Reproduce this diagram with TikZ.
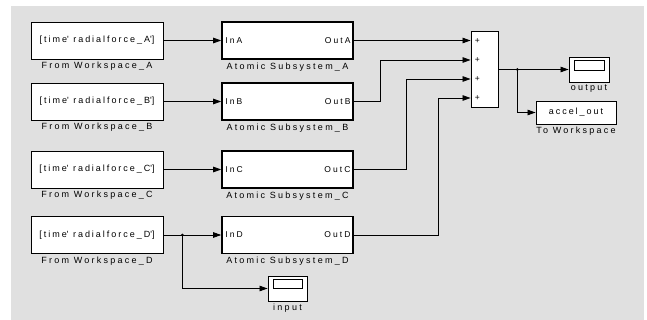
\documentclass[tikz,border=0pt]{standalone}
\usepackage{fontspec}
\setmainfont{Liberation Sans}
\newfontfamily\lblfont[LetterSpace=25]{Liberation Sans}
\newfontfamily\txtfont[LetterSpace=22]{Liberation Sans}
\newfontfamily\portfont[LetterSpace=25]{Liberation Sans}
\usetikzlibrary{arrows.meta,calc}
\definecolor{bggrey}{RGB}{224,224,224}
\begin{document}
\begin{tikzpicture}[x=1pt,y=-1pt,
  fw/.style={draw, fill=white, line width=0.9pt, minimum width=132pt, minimum height=37pt, inner sep=0pt, font=\txtfont\fontsize{9}{10}\selectfont},
  asb/.style={draw, fill=white, line width=1.6pt, minimum width=131pt, minimum height=37pt, inner sep=0pt},
  port/.style={inner sep=0pt, font=\portfont\fontsize{8.5}{9}\selectfont},
  lbl/.style={inner sep=0pt, anchor=north, font=\lblfont\fontsize{9}{10}\selectfont},
  sumb/.style={draw, fill=white, line width=0.9pt, minimum width=27pt, minimum height=76pt, inner sep=0pt},
  plus/.style={inner sep=0pt, font=\fontsize{8.5}{9}\selectfont, anchor=west},
  scopeb/.style={draw, fill=white, line width=0.9pt, minimum width=40pt, minimum height=25pt, inner sep=0pt},
  scopein/.style={draw, fill=white, line width=0.9pt, minimum width=30pt, minimum height=10pt, inner sep=0pt},
  wsb/.style={draw, fill=white, line width=0.9pt, minimum width=80pt, minimum height=23pt, inner sep=0pt, font=\txtfont\fontsize{9}{10}\selectfont},
  arr/.style={draw, line width=0.8pt, -{Triangle[length=8pt,width=5.5pt]}},
  wire/.style={draw, line width=0.8pt}
]
\useasboundingbox (0,0) rectangle (647,320);
\fill[bggrey] (11,6) rectangle (644,320);

% From Workspace blocks
\node[fw] (fwA) at (97,40.5) {[time\textquotesingle\ radialforce\_A\textquotesingle]};
\node[fw] (fwB) at (97,101.5) {[time\textquotesingle\ radialforce\_B\textquotesingle]};
\node[fw] (fwC) at (97,169.5) {[time\textquotesingle\ radialforce\_C\textquotesingle]};
\node[fw] (fwD) at (97,235) {[time\textquotesingle\ radialforce\_D\textquotesingle]};
\node[lbl] (lfA) at ([yshift=-2.5pt]fwA.south) {From Workspace\_A};
\node[lbl] (lfB) at ([yshift=-2.5pt]fwB.south) {From Workspace\_B};
\node[lbl] (lfC) at ([yshift=-2.5pt]fwC.south) {From Workspace\_C};
\node[lbl] (lfD) at ([yshift=-2.5pt]fwD.south) {From Workspace\_D};

% Atomic subsystems
\node[asb] (asA) at (287.5,40.5) {};
\node[asb] (asB) at (287.5,101.5) {};
\node[asb] (asC) at (287.5,169.5) {};
\node[asb] (asD) at (287.5,235) {};
\foreach \n in {A,B,C,D}{
  \node[port, anchor=west] (in\n) at ([xshift=4pt]as\n.west) {In\n};
  \node[port, anchor=east] (out\n) at ([xshift=-3pt]as\n.east) {Out\n};
  \node[lbl] (la\n) at ([yshift=-2.5pt]as\n.south) {Atomic Subsystem\_\n};
}

% Sum block
\node[sumb] (sum) at (484.5,69.5) {};
\coordinate (s1) at ([yshift=28.5pt]sum.west);
\coordinate (s2) at ([yshift=9.5pt]sum.west);
\coordinate (s3) at ([yshift=-9.5pt]sum.west);
\coordinate (s4) at ([yshift=-28.5pt]sum.west);
\foreach \s in {s1,s2,s3,s4}{
  \node[plus] (p\s) at ([xshift=4pt]\s) {+};
}

% Scopes and To Workspace
\node[scopeb] (scOut) at (589,69.5) {};
\node[scopein] (scOutIn) at ([yshift=4.5pt]scOut.center) {};
\node[lbl] (lscOut) at ([yshift=-2.5pt]scOut.south) {output};
\node[wsb] (ws) at (576,112.5) {accel\_out};
\node[lbl] (lws) at ([yshift=-2.5pt]ws.south) {To Workspace};
\node[scopeb, minimum width=39pt] (scIn) at (287.5,288.5) {};
\node[scopein, minimum width=29pt, minimum height=9pt] (scInIn) at ([yshift=5pt]scIn.center) {};
\node[lbl] (lscIn) at ([yshift=-2.5pt]scIn.south) {input};

% Connections from workspace to subsystems
\draw[arr] (fwA.east) -- (asA.west);
\draw[arr] (fwB.east) -- (asB.west);
\draw[arr] (fwC.east) -- (asC.west);
\draw[arr] (fwD.east) -- (asD.west);

% Outputs to sum
\draw[arr] (asA.east) -- (asA.east -| sum.west);
\draw[arr] (asB.east) -- ++(27,0) |- (s2);
\draw[arr] (asC.east) -- ++(53,0) |- (s3);
\draw[arr] (asD.east) -- ++(85,0) |- (s4);

% Sum output
\coordinate (br1) at ([xshift=19pt]sum.east);
\draw[arr] (sum.east) -- (scOut.west);
\draw[arr] (br1) |- (ws.west);
\fill (br1) circle (1.5pt);

% Input branch
\coordinate (brD) at ([xshift=19pt]fwD.east);
\draw[arr] (brD) |- (scIn.west);
\fill (brD) circle (1.5pt);
\end{tikzpicture}
\end{document}
